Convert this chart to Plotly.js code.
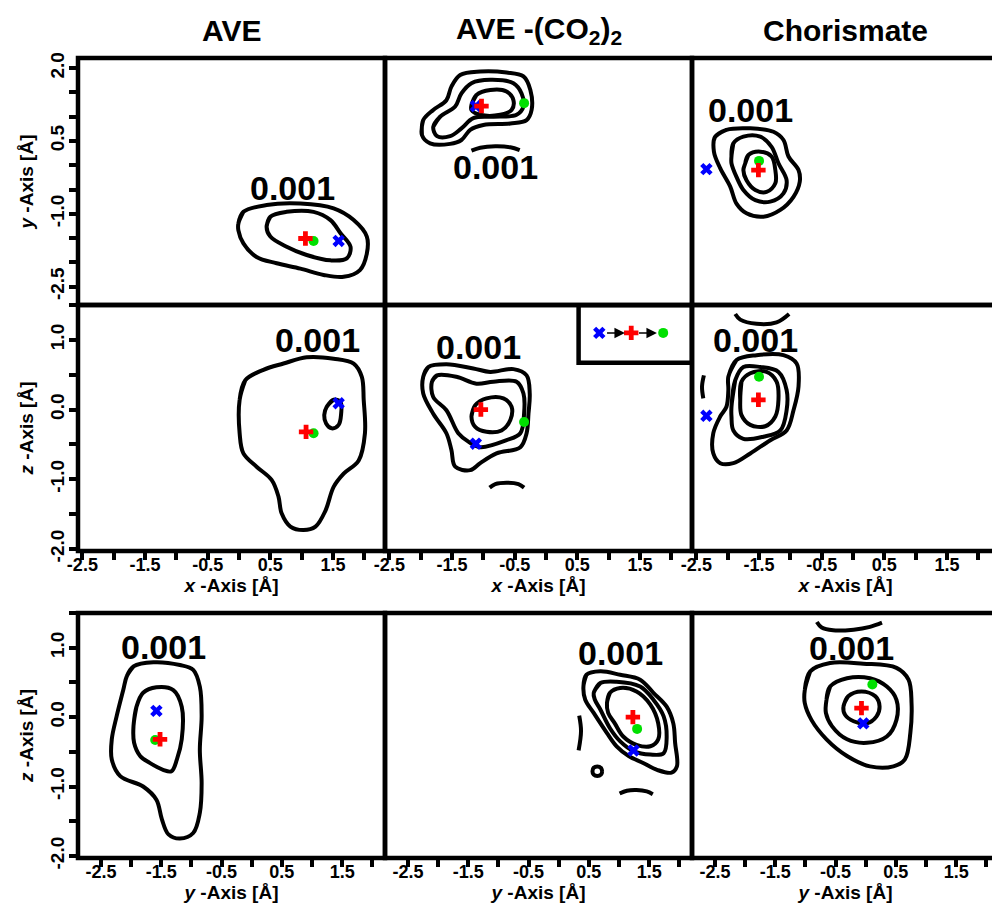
<!DOCTYPE html>
<html>
<head>
<meta charset="utf-8">
<script src="https://cdn.plot.ly/plotly-3.0.1.min.js"></script>
<style>
html,body{margin:0;padding:0;background:#fff;overflow:hidden;}
#chart{width:1000px;height:906px;}
</style>
</head>
<body>
<div id="chart"></div>
<script>
// ---------------- data ----------------
const columnTitles = ["AVE", "AVE -(CO<sub>2</sub>)<sub>2</sub>", "Chorismate"];
const rowXTitles = ["", "<i>x</i> -Axis [Å]", "<i>y</i> -Axis [Å]"];
const rowYTitles = ["<i>y</i> -Axis [Å]", "<i>z</i> -Axis [Å]", "<i>z</i> -Axis [Å]"];
const levelLabel = "0.001";

// x-axis tick labels
const xTickVals = [-2.5, -2.0, -1.5, -1.0, -0.5, 0.0, 0.5, 1.0, 1.5, 2.0];
const xTickText = ["-2.5", "", "-1.5", "", "-0.5", "", "0.5", "", "1.5", ""];
// y-axis tick labels, top row
const yTickValsTop = [-2.5, -2.0, -1.5, -1.0, -0.5, 0.0, 0.5, 1.0, 1.5, 2.0];
const yTickTextTop = ["-2.5", "", "", "-1.0", "", "", "0.5", "", "", "2.0"];
// y-axis tick labels, rows 2 and 3
const yTickValsLow = [-2.0, -1.5, -1.0, -0.5, 0.0, 0.5, 1.0, 1.5];
const yTickTextLow = ["-2.0", "", "-1.0", "", "0.0", "", "1.0", ""];

// Panel 1: AVE, x-y
const p1_outer_x = [-0.01,0.07,0.44,0.98,1.51,1.83,2.04,2.04,1.93,1.67,1.35,0.98,0.60,0.28,0.07,-0.01];
const p1_outer_y = [-1.20,-0.96,-0.82,-0.79,-0.89,-1.13,-1.47,-1.82,-2.16,-2.30,-2.26,-2.13,-2.02,-1.89,-1.61,-1.34];
const p1_inner_x = [0.44,0.50,0.76,1.19,1.46,1.62,1.78,1.72,1.46,1.08,0.76,0.50];
const p1_inner_y = [-1.27,-1.06,-0.96,-0.96,-1.13,-1.40,-1.68,-1.92,-1.96,-1.85,-1.68,-1.47];

// Panel 2: AVE-(CO2)2, x-y
const p2_outer_x = [-1.98,-1.96,-1.80,-1.59,-1.51,-1.37,-1.05,-0.63,-0.36,-0.25,-0.23,-0.31,-0.57,-1.00,-1.21,-1.35,-1.53,-1.85];
const p2_outer_y = [0.62,0.93,1.14,1.34,1.62,1.86,1.93,1.91,1.83,1.55,1.14,0.93,0.86,0.83,0.73,0.52,0.44,0.45];
const p2_mid_x = [-1.80,-1.69,-1.45,-1.35,-1.19,-0.89,-0.52,-0.39,-0.36,-0.47,-0.84,-1.16,-1.35,-1.53,-1.74];
const p2_mid_y = [0.79,1.00,1.21,1.48,1.69,1.76,1.69,1.48,1.21,1.04,1.00,0.97,0.76,0.60,0.60];
const p2_inner_x = [-1.19,-1.11,-0.89,-0.63,-0.52,-0.55,-0.73,-1.05,-1.19];
const p2_inner_y = [1.24,1.45,1.55,1.52,1.34,1.14,1.04,1.04,1.14];
const p2_arc_x = [-1.19,-1.05,-0.81,-0.57,-0.42];
const p2_arc_y = [0.30,0.36,0.39,0.37,0.31];

// Panel 3: Chorismate, x-y
const p3_outer_x = [-2.20,-2.02,-1.64,-1.27,-1.11,-1.03,-0.87,-0.85,-0.95,-1.16,-1.43,-1.70,-1.86,-1.96,-2.12,-2.22];
const p3_outer_y = [0.59,0.73,0.76,0.69,0.52,0.18,-0.10,-0.34,-0.65,-0.92,-1.06,-0.99,-0.79,-0.44,-0.06,0.28];
const p3_mid_x = [-1.94,-1.91,-1.75,-1.48,-1.30,-1.19,-1.06,-1.11,-1.32,-1.56,-1.75,-1.86,-1.94];
const p3_mid_y = [0.18,0.45,0.59,0.59,0.38,0.04,-0.31,-0.58,-0.75,-0.72,-0.51,-0.24,0.04];
const p3_inner_x = [-1.72,-1.67,-1.48,-1.30,-1.24,-1.24,-1.38,-1.56,-1.70,-1.75];
const p3_inner_y = [0.04,0.21,0.28,0.18,-0.10,-0.37,-0.55,-0.51,-0.31,-0.10];

// Panel 4: AVE, x-z
const p4_outer_x = [0.01,0.10,0.39,0.71,1.08,1.51,1.83,1.96,1.99,2.01,1.91,1.67,1.51,1.38,1.22,1.03,0.82,0.68,0.63,0.52,0.28,0.07,0.01];
const p4_outer_y = [0.14,0.42,0.57,0.66,0.75,0.73,0.66,0.47,0.14,-0.34,-0.73,-0.92,-1.11,-1.45,-1.68,-1.73,-1.68,-1.49,-1.25,-1.01,-0.82,-0.63,-0.34];
const p4_inner_x = [1.40,1.51,1.62,1.63,1.59,1.48,1.39,1.36];
const p4_inner_y = [0.04,0.14,0.11,-0.06,-0.22,-0.27,-0.20,-0.08];

// Panel 5: AVE-(CO2)2, x-z
const p5_outer_x = [-1.96,-1.88,-1.59,-1.16,-0.89,-0.52,-0.31,-0.26,-0.28,-0.31,-0.41,-0.79,-1.05,-1.21,-1.45,-1.51,-1.59,-1.80,-1.96];
const p5_outer_y = [0.47,0.61,0.65,0.59,0.54,0.58,0.49,0.23,-0.06,-0.34,-0.54,-0.63,-0.77,-0.87,-0.82,-0.58,-0.34,-0.06,0.23];
const p5_mid_x = [-1.82,-1.74,-1.43,-1.11,-0.84,-0.47,-0.36,-0.35,-0.41,-0.63,-1.05,-1.24,-1.40,-1.59,-1.80];
const p5_mid_y = [0.40,0.49,0.47,0.37,0.40,0.40,0.23,-0.06,-0.34,-0.44,-0.54,-0.46,-0.34,-0.01,0.18];
const p5_inner_x = [-1.19,-1.13,-0.95,-0.68,-0.55,-0.57,-0.71,-0.95,-1.13];
const p5_inner_y = [-0.10,0.06,0.16,0.16,0.04,-0.15,-0.30,-0.32,-0.25];
const p5_arc_x = [-0.90,-0.81,-0.63,-0.44,-0.35];
const p5_arc_y = [-1.12,-1.07,-1.05,-1.07,-1.12];

// Panel 6: Chorismate, x-z
const p6_outer_x = [-1.99,-1.86,-1.54,-1.11,-0.90,-0.87,-0.95,-1.06,-1.32,-1.64,-1.91,-2.12,-2.23,-2.23,-2.12,-2.02,-1.99];
const p6_outer_y = [0.47,0.71,0.78,0.78,0.66,0.33,-0.01,-0.30,-0.44,-0.63,-0.77,-0.77,-0.63,-0.34,-0.10,0.04,0.28];
const p6_mid_x = [-1.94,-1.88,-1.75,-1.48,-1.19,-1.06,-1.06,-1.16,-1.43,-1.75,-1.91,-1.94];
const p6_mid_y = [0.04,0.42,0.61,0.61,0.54,0.28,-0.01,-0.30,-0.39,-0.42,-0.30,-0.10];
const p6_inner_x = [-1.80,-1.78,-1.64,-1.38,-1.22,-1.19,-1.24,-1.40,-1.64,-1.78];
const p6_inner_y = [0.14,0.40,0.52,0.54,0.40,0.14,-0.10,-0.24,-0.22,-0.08];
const p6_arcTop_x = [-1.88,-1.80,-1.54,-1.22,-1.02];
const p6_arcTop_y = [1.37,1.29,1.23,1.25,1.37];
const p6_arcLeft_x = [-2.38,-2.41,-2.39];
const p6_arcLeft_y = [0.49,0.33,0.16];

// Panel 7: AVE, y-z
const p7_outer_x = [-2.07,-1.96,-1.63,-1.19,-0.97,-0.86,-0.83,-0.86,-0.83,-0.86,-0.97,-1.19,-1.38,-1.49,-1.58,-1.80,-2.18,-2.32,-2.32,-2.24,-2.13];
const p7_outer_y = [0.59,0.73,0.79,0.75,0.68,0.44,0.01,-0.47,-0.95,-1.38,-1.67,-1.75,-1.69,-1.47,-1.19,-1.00,-0.85,-0.61,-0.32,0.01,0.39];
const p7_inner_x = [-1.96,-1.91,-1.80,-1.58,-1.30,-1.16,-1.16,-1.24,-1.33,-1.47,-1.69,-1.85,-1.95];
const p7_inner_y = [-0.13,0.15,0.35,0.43,0.39,0.15,-0.32,-0.61,-0.78,-0.76,-0.66,-0.56,-0.37];

// Panel 8: AVE-(CO2)2, y-z
const p8_outer_x = [0.41,0.46,0.69,1.02,1.35,1.57,1.79,1.90,1.93,1.96,1.87,1.63,1.40,1.16,0.96,0.80,0.58,0.44];
const p8_outer_y = [0.44,0.61,0.66,0.61,0.54,0.35,0.15,-0.09,-0.37,-0.71,-0.80,-0.76,-0.66,-0.56,-0.42,-0.23,0.06,0.25];
const p8_mid_x = [0.58,0.69,0.96,1.35,1.57,1.74,1.79,1.74,1.52,1.24,1.02,0.85,0.69,0.60];
const p8_mid_y = [0.35,0.49,0.51,0.44,0.25,0.01,-0.28,-0.52,-0.54,-0.49,-0.35,-0.16,0.11,0.25];
const p8_inner_x = [0.80,0.85,1.02,1.29,1.52,1.65,1.65,1.52,1.29,1.07,0.93,0.82];
const p8_inner_y = [0.20,0.35,0.42,0.37,0.18,-0.09,-0.32,-0.42,-0.40,-0.28,-0.09,0.06];
const p8_arcLeft_x = [0.34,0.37,0.33];
const p8_arcLeft_y = [0.02,-0.20,-0.48];
const p8_ring_x = [0.72,0.70,0.64,0.58,0.56,0.58,0.64,0.70];
const p8_ring_y = [-0.78,-0.73,-0.71,-0.73,-0.78,-0.83,-0.85,-0.83];
const p8_arcBottom_x = [1.01,1.13,1.29,1.46,1.56];
const p8_arcBottom_y = [-1.10,-1.06,-1.05,-1.07,-1.11];

// Panel 9: Chorismate, y-z
const p9_outer_x = [-1.01,-0.92,-0.59,-0.04,0.51,0.71,0.76,0.74,0.65,0.46,0.07,-0.31,-0.65,-0.90,-1.01];
const p9_outer_y = [0.39,0.66,0.78,0.77,0.71,0.54,0.20,-0.23,-0.61,-0.71,-0.71,-0.56,-0.32,-0.04,0.20];
const p9_mid_x = [-0.65,-0.59,-0.31,0.07,0.35,0.51,0.51,0.35,0.02,-0.31,-0.56,-0.66];
const p9_mid_y = [0.25,0.44,0.56,0.56,0.44,0.25,-0.04,-0.28,-0.37,-0.32,-0.13,0.06];
const p9_inner_x = [-0.37,-0.29,-0.07,0.16,0.23,0.18,0.02,-0.20,-0.34];
const p9_inner_y = [0.15,0.30,0.37,0.30,0.15,0.01,-0.09,-0.06,0.03];
const p9_arcTop_x = [-0.81,-0.73,-0.54,-0.20,0.07,0.27];
const p9_arcTop_y = [1.37,1.29,1.25,1.26,1.30,1.36];

// point markers per panel (panels 1..9)
const blueX  = [1.59,-1.12,-2.34, 1.59,-1.12,-2.34, -1.58,1.24,-0.04];
const blueY  = [-1.56,1.22,-0.08, 0.09,-0.49,-0.09, 0.09,-0.48,-0.09];
const greenX = [1.19,-0.35,-1.50, 1.19,-0.35,-1.50, -1.60,1.30,0.11];
const greenY = [-1.56,1.28,0.09, -0.34,-0.18,0.47, -0.33,-0.17,0.47];
const redX   = [1.06,-1.03,-1.51, 1.07,-1.04,-1.51, -1.52,1.23,-0.07];
const redY   = [-1.51,1.22,-0.10, -0.32,0.00,0.14, -0.32,0.00,0.13];

// "0.001" label positions per panel
const labelX = [0.86,-0.81,-1.64, 1.25,-1.08,-1.56, -1.47,1.02,-0.23];
const labelY = [-0.47,-0.04,1.14, 1.00,0.90,1.00, 1.01,0.93,1.00];

// legend key (in panel 5 coordinates): blue -> red -> green
const legendX = [0.85, 1.36, 1.87];
const legendY = [1.10, 1.10, 1.10];

// ---------------- build ----------------
const FONT = 'Liberation Sans, Arial, Helvetica, sans-serif';
const panelLines = [
  [[p1_outer_x,p1_outer_y,true],[p1_inner_x,p1_inner_y,true]],
  [[p2_outer_x,p2_outer_y,true],[p2_mid_x,p2_mid_y,true],[p2_inner_x,p2_inner_y,true],[p2_arc_x,p2_arc_y,false]],
  [[p3_outer_x,p3_outer_y,true],[p3_mid_x,p3_mid_y,true],[p3_inner_x,p3_inner_y,true]],
  [[p4_outer_x,p4_outer_y,true],[p4_inner_x,p4_inner_y,true]],
  [[p5_outer_x,p5_outer_y,true],[p5_mid_x,p5_mid_y,true],[p5_inner_x,p5_inner_y,true],[p5_arc_x,p5_arc_y,false]],
  [[p6_outer_x,p6_outer_y,true],[p6_mid_x,p6_mid_y,true],[p6_inner_x,p6_inner_y,true],[p6_arcTop_x,p6_arcTop_y,false],[p6_arcLeft_x,p6_arcLeft_y,false]],
  [[p7_outer_x,p7_outer_y,true],[p7_inner_x,p7_inner_y,true]],
  [[p8_outer_x,p8_outer_y,true],[p8_mid_x,p8_mid_y,true],[p8_inner_x,p8_inner_y,true],[p8_arcLeft_x,p8_arcLeft_y,false],[p8_ring_x,p8_ring_y,true],[p8_arcBottom_x,p8_arcBottom_y,false]],
  [[p9_outer_x,p9_outer_y,true],[p9_mid_x,p9_mid_y,true],[p9_inner_x,p9_inner_y,true],[p9_arcTop_x,p9_arcTop_y,false]]
];

function ax(k){ return k === 1 ? '' : String(k); }

const BLUE = '#0000ff', GREEN = '#00e000', RED = '#ff0000';
const traces = [];
panelLines.forEach((lines, i) => {
  const k = i + 1;
  lines.forEach(([xs, ys, closed]) => {
    const x = closed ? xs.concat([xs[0], xs[1]]) : xs.slice();
    const y = closed ? ys.concat([ys[0], ys[1]]) : ys.slice();
    traces.push({type:'scatter', mode:'lines', x:x, y:y, xaxis:'x'+ax(k), yaxis:'y'+ax(k),
      line:{color:'black', width:4, shape:'spline', smoothing:1}, hoverinfo:'skip', showlegend:false});
  });
  traces.push({type:'scatter', mode:'markers', x:[blueX[i]], y:[blueY[i]], xaxis:'x'+ax(k), yaxis:'y'+ax(k),
    marker:{symbol:'x', size:11, color:BLUE, opacity:1, line:{width:0}}, showlegend:false});
  traces.push({type:'scatter', mode:'markers', x:[greenX[i]], y:[greenY[i]], xaxis:'x'+ax(k), yaxis:'y'+ax(k),
    marker:{symbol:'circle', size:10, color:GREEN, opacity:1, line:{width:0}}, showlegend:false});
  traces.push({type:'scatter', mode:'markers', x:[redX[i]], y:[redY[i]], xaxis:'x'+ax(k), yaxis:'y'+ax(k),
    marker:{symbol:'cross', size:12, color:RED, opacity:1, line:{width:0}}, showlegend:false});
});
// legend key
const legendSymbols = ['x','cross','circle'];
const legendColors = [BLUE, RED, GREEN];
const legendSizes = [11, 12, 10];
legendX.forEach((lx, j) => {
  traces.push({type:'scatter', mode:'markers', x:[lx], y:[legendY[j]], xaxis:'x5', yaxis:'y5',
    marker:{symbol:legendSymbols[j], size:legendSizes[j], color:legendColors[j], opacity:1, line:{width:0}}, showlegend:false});
});

const W = 1000, H = 906, ML = 78, MR = 1, MT = 58, MB = 48;
const PW = W - ML - MR, PH = H - MT - MB;
const colPx = [[78,385],[385,692],[692,999]];
const rowPx = [[58,305],[305,551],[613,858]];
const colDom = colPx.map(([a,b]) => [(a-ML)/PW, (b-ML)/PW]);
const rowDom = rowPx.map(([a,b]) => [1-(b-MT)/PH, 1-(a-MT)/PH]);
const rowXRange = [[-2.57,2.33],[-2.57,2.33],[-2.88,2.21]];
const rowYRange = [[-2.88,2.21],[-2.03,1.5],[-2.03,1.5]];

const layout = {
  width:W, height:H, margin:{l:ML, r:MR, t:MT, b:MB},
  paper_bgcolor:'white', plot_bgcolor:'white', showlegend:false, hovermode:false,
  font:{family:FONT, color:'black'},
  annotations:[], shapes:[]
};
for (let k = 1; k <= 9; k++) {
  const r = Math.floor((k-1)/3), c = (k-1)%3;
  const xa = {
    domain:colDom[c], anchor:'y'+ax(k), range:rowXRange[r],
    showline:false, showgrid:false, zeroline:false, fixedrange:true,
    ticks: r >= 1 ? 'outside' : '', ticklen:8, tickwidth:4, tickcolor:'black',
    tickmode:'array', tickvals:xTickVals, ticktext:xTickText,
    showticklabels: r >= 1, ticklabelstandoff:-11,
    tickfont:{family:FONT, size:18, weight:700, color:'black'},
    title: r >= 1 ? {text:rowXTitles[r], font:{family:FONT, size:19, weight:700, color:'black'}, standoff:0} : {text:''}
  };
  const ya = {
    domain:rowDom[r], anchor:'x'+ax(k), range:rowYRange[r],
    showline:false, showgrid:false, zeroline:false, fixedrange:true,
    ticks: c === 0 ? 'outside' : '', ticklen:8, tickwidth:4, tickcolor:'black',
    tickmode:'array',
    tickvals: r === 0 ? yTickValsTop : yTickValsLow,
    ticktext: r === 0 ? yTickTextTop : yTickTextLow,
    showticklabels: c === 0, tickangle:-90, ticklabelstandoff:-3,
    tickfont:{family:FONT, size:19, weight:700, color:'black'},
    title: c === 0 ? {text:rowYTitles[r], font:{family:FONT, size:19, weight:700, color:'black'}, standoff:8} : {text:''}
  };
  layout['xaxis'+ax(k)] = xa;
  layout['yaxis'+ax(k)] = ya;
  // panel frame
  layout.shapes.push({type:'rect', xref:'x'+ax(k)+' domain', yref:'y'+ax(k)+' domain',
    x0:0, x1:1, y0:0, y1:1, line:{color:'black', width:4.5}, fillcolor:'rgba(0,0,0,0)', layer:'above'});
  layout.annotations.push({xref:'x'+ax(k), yref:'y'+ax(k), x:labelX[k-1], y:labelY[k-1],
    text:levelLabel, showarrow:false, font:{family:FONT, size:34, weight:700, color:'black'},
    xanchor:'center', yanchor:'middle'});
}
columnTitles.forEach((t, c) => {
  layout.annotations.push({xref:'paper', yref:'paper', x:(colDom[c][0]+colDom[c][1])/2,
    y:1 + (MT-30)/PH, text:t, showarrow:false, xanchor:'center', yanchor:'middle',
    font:{family:FONT, size:30, weight:700, color:'black'}});
});
// legend box and arrows in panel 5
layout.shapes.push({type:'rect', xref:'x5', yref:'y5', x0:0.52, x1:2.33, y0:0.67, y1:1.5,
  line:{color:'black', width:4.5}, fillcolor:'rgba(0,0,0,0)'});
[[0.95,1.26],[1.46,1.77]].forEach(([a,b]) => {
  layout.annotations.push({xref:'x5', yref:'y5', axref:'x5', ayref:'y5', x:b, y:legendY[0], ax:a, ay:legendY[0],
    text:'', showarrow:true, arrowhead:2, arrowsize:1.4, arrowwidth:1.5, arrowcolor:'black'});
});

Plotly.newPlot('chart', traces, layout, {staticPlot:true, displayModeBar:false});
</script>
</body>
</html>
